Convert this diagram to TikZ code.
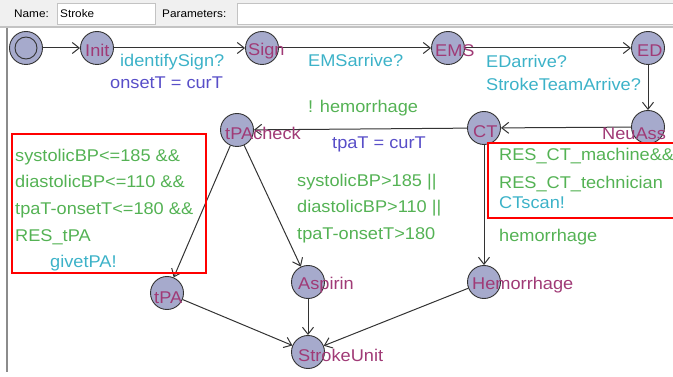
\documentclass[tikz,border=0pt]{standalone}
\usepackage{fontspec}
\setmainfont[FakeStretch=1.07]{Liberation Sans}
\usetikzlibrary{arrows.meta}
\definecolor{locfill}{RGB}{166,170,204}
\definecolor{guardc}{RGB}{84,178,84}
\definecolor{syncc}{RGB}{60,178,200}
\definecolor{assignc}{RGB}{88,78,200}
\definecolor{namec}{RGB}{160,58,118}
\definecolor{hdrc}{RGB}{240,240,240}
\definecolor{hdrline}{RGB}{195,195,195}
\tikzset{
  loc/.style={circle, draw=black!80, fill=locfill, minimum size=33pt, inner sep=0pt, line width=0.9pt},
  lbl/.style={anchor=base west, inner sep=0pt, font=\fontsize{17}{26}\selectfont},
  lname/.style={lbl, text=namec},
  lguard/.style={lbl, text=guardc},
  lsync/.style={lbl, text=syncc},
  lassign/.style={lbl, text=assignc},
  hdr/.style={anchor=base west, inner sep=0pt, font=\fontsize{11}{13}\selectfont},
  edge/.style={draw=black!80, line width=1pt, -{Straight Barb[length=7pt,width=11pt]}},
  redbox/.style={draw=red, line width=1.8pt}
}
\begin{document}
\begin{tikzpicture}[x=1pt,y=-1pt]
\useasboundingbox (0,0) rectangle (673,377);
% header
\fill[hdrc] (0,0) rectangle (673,27);
\draw[hdrline, line width=1.5pt] (0,27) -- (673,27);
\draw[hdrline, fill=white] (57,3) rectangle (155,24);
\draw[hdrline, fill=white] (237,3) rectangle (675,24);
\node[hdr] (hname) at (14,18) {Name:};
\node[hdr] (hstroke) at (60,18) {Stroke};
\node[hdr] (hparams) at (162,18) {Parameters:};
\draw[black!45, line width=2pt] (7,28) -- (7,372);
% locations
\node[loc] (start) at (26,48) {};
\node[circle, draw=black!80, minimum size=22pt, inner sep=0pt, line width=0.9pt] (startin) at (26,48) {};
\node[loc] (Init) at (97,48) {};
\node[loc] (Sign) at (262,48) {};
\node[loc] (EMS) at (448,48) {};
\node[loc] (ED) at (648,48) {};
\node[loc] (NeuAss) at (648,127) {};
\node[loc] (CT) at (484,128) {};
\node[loc] (tPAcheck) at (237,130) {};
\node[loc] (tPA) at (167,293) {};
\node[loc] (Aspirin) at (308,282) {};
\node[loc] (Hemorrhage) at (484,282) {};
\node[loc] (StrokeUnit) at (308,352) {};
% edges
\draw[edge] (start) -- (Init);
\draw[edge] (Init) -- (Sign);
\draw[edge] (Sign) -- (EMS);
\draw[edge] (EMS) -- (ED);
\draw[edge] (ED) -- (NeuAss);
\draw[edge] (NeuAss) -- (CT);
\draw[edge] (CT) -- (tPAcheck);
\draw[edge] (tPAcheck) -- (tPA);
\draw[edge] (tPAcheck) -- (Aspirin);
\draw[edge] (CT) -- (Hemorrhage);
\draw[edge] (tPA) -- (StrokeUnit);
\draw[edge] (Aspirin) -- (StrokeUnit);
\draw[edge] (Hemorrhage) -- (StrokeUnit);
% location names
\node[lname] (nInit) at (85,57) {Init};
\node[lname] (nSign) at (248,56) {Sign};
\node[lname] (nEMS) at (435,57) {EMS};
\node[lname] (nED) at (637,57) {ED};
\node[lname] (nNeuAss) at (602,140) {NeuAss};
\node[lname] (nCT) at (473,138) {CT};
\node[lname] (ntPAcheck) at (225,140) {tPAcheck};
\node[lname] (ntPA) at (154,303) {tPA};
\node[lname] (nAspirin) at (298,290) {Aspirin};
\node[lname] (nHem) at (472,290) {Hemorrhage};
\node[lname] (nSU) at (298,361) {StrokeUnit};
% edge labels
\node[lsync] (s1) at (120,67) {identifySign?};
\node[lassign] (a1) at (110,89) {onsetT = curT};
\node[lsync] (s2) at (308,67) {EMSarrive?};
\node[lsync] (s3) at (486,68) {EDarrive?};
\node[lsync] (s4) at (486,91) {StrokeTeamArrive?};
\node[lguard] (g1) at (308,113) {! hemorrhage};
\node[lassign] (a2) at (332,149) {tpaT = curT};
\node[lguard] (g2a) at (297,187) {systolicBP>185 ||};
\node[lguard] (g2b) at (297,213) {diastolicBP>110 ||};
\node[lguard] (g2c) at (297,240) {tpaT-onsetT>180};
\node[lguard] (g3a) at (15,162) {systolicBP<=185 \&\&};
\node[lguard] (g3b) at (15,188) {diastolicBP<=110 \&\&};
\node[lguard] (g3c) at (15,215) {tpaT-onsetT<=180 \&\&};
\node[lguard] (g3d) at (15,242) {RES\_tPA};
\node[lsync] (s5) at (50,268) {givetPA!};
\node[lguard] (g4) at (499,242) {hemorrhage};
\node[lguard] (g5a) at (499,161) {RES\_CT\_machine\&\&};
\node[lguard] (g5b) at (499,189) {RES\_CT\_technician};
\node[lsync] (s6) at (499,209) {CTscan!};
% red boxes
\draw[redbox] (12,134) rectangle (206,273);
\draw[redbox] (488,143) rectangle (676,218);
\end{tikzpicture}
\end{document}
